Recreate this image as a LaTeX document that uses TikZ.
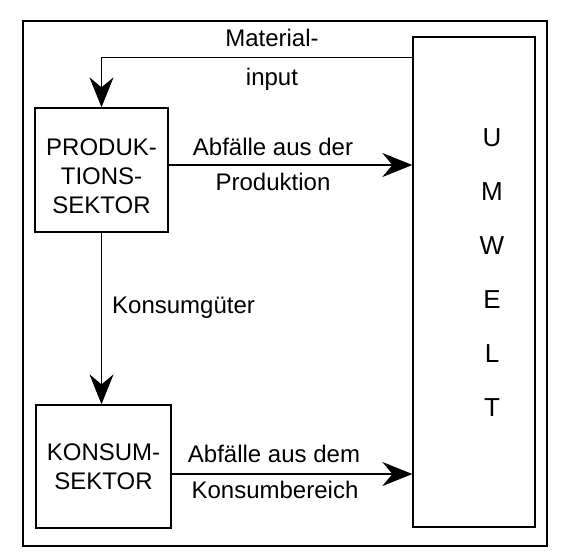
\documentclass[tikz,border=0pt]{standalone}
\usepackage{fontspec}
\setmainfont{Liberation Sans}
\usetikzlibrary{arrows.meta}
\begin{document}
\begin{tikzpicture}[x=1pt,y=-1pt,
  every node/.style={font=\fontsize{24}{29}\selectfont, inner sep=0pt},
  boxnode/.style={draw, line width=1.3pt, rectangle},
  conn/.style={line width=1.3pt},
  arr/.style={conn, -{Stealth[length=30pt,width=24pt,inset=10pt]}},
  lbl/.style={anchor=base}
]
\useasboundingbox (0,0) rectangle (565,555);
% outer frame
\draw[line width=1.3pt] (23,21) rectangle (547,546);
% boxes
\node[boxnode, minimum width=133pt, minimum height=124pt] (prod) at (101.5,170) {};
\node[align=center] (prodtext) at (101.5,176) {PRODUK-\\TIONS-\\SEKTOR};
\node[boxnode, minimum width=135pt, minimum height=123pt, align=center] (kons) at (103.5,466.5) {KONSUM-\\SEKTOR};
\node[boxnode, minimum width=122pt, minimum height=490pt] (umwelt) at (474,282) {};
\node[align=center, font=\fontsize{26}{54}\selectfont] (umwelttext) at (492,272.5) {U\\M\\W\\E\\L\\T};
% connectors
\coordinate (mistart) at ([yshift=-21pt]umwelt.north west);
\draw[arr] (mistart) -| (prod.north);
\draw[arr] ([yshift=5pt]prod.east) -- ([yshift=5pt]prod.east -| umwelt.west);
\draw[arr] (prod.south) -- (prod.south |- kons.north);
\draw[arr] ([yshift=-7.5pt]kons.east) -- ([yshift=-7.5pt]kons.east -| umwelt.west);
% labels
\node[lbl] (l1) at (272,46) {Material-};
\node[lbl] (l2) at (272,85) {input};
\node[lbl] (l3) at (273,155) {Abfälle aus der};
\node[lbl] (l4) at (273,190) {Produktion};
\node[lbl, anchor=base west] (l5) at (112,313) {Konsumgüter};
\node[lbl] (l6) at (274,462) {Abfälle aus dem};
\node[lbl] (l7) at (275,498) {Konsumbereich};
\end{tikzpicture}
\end{document}
